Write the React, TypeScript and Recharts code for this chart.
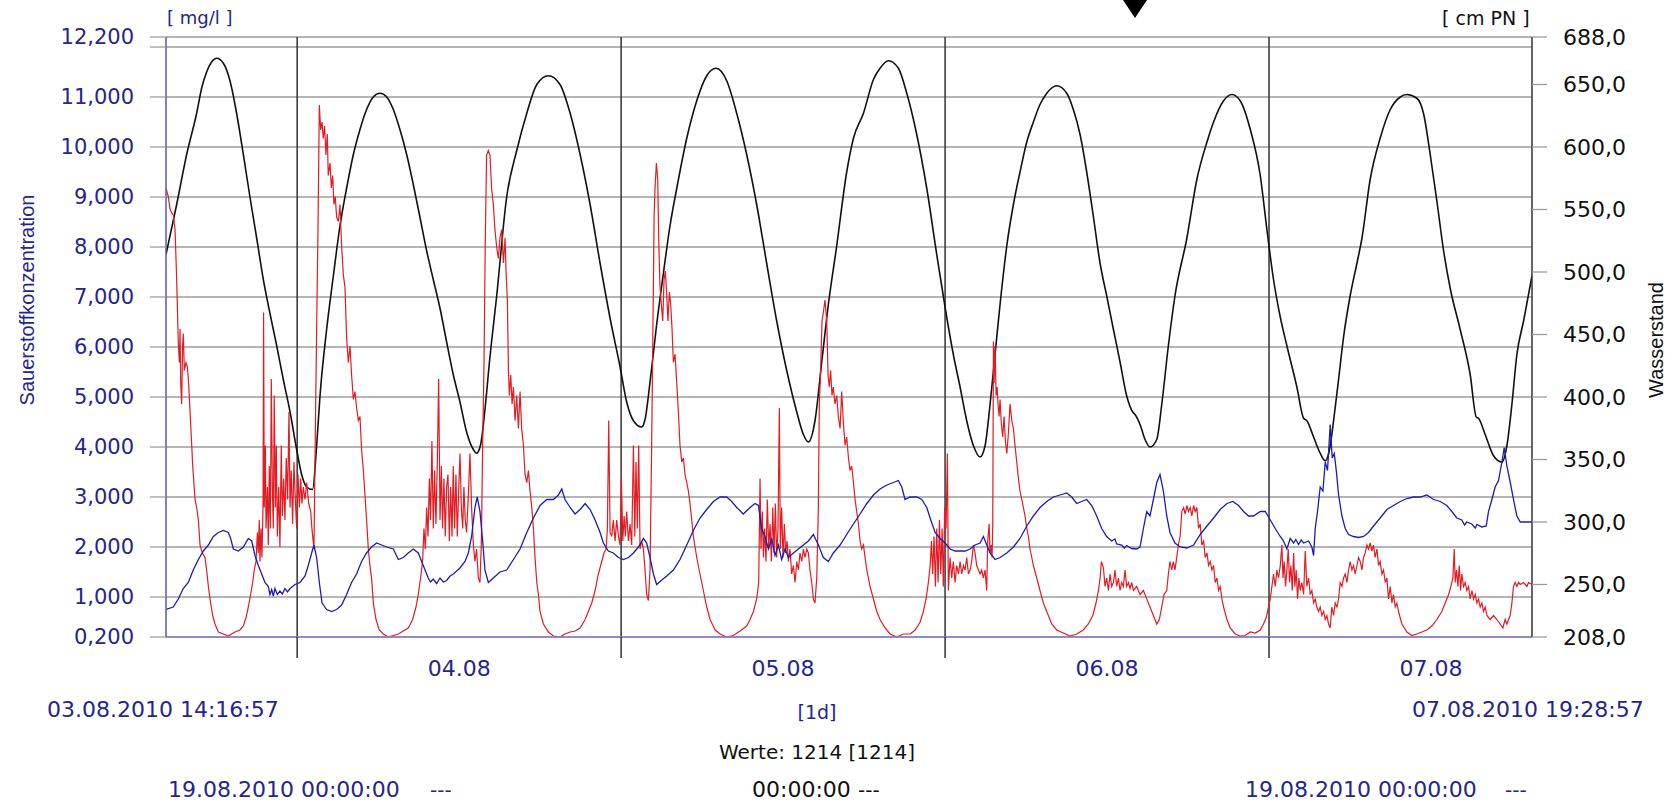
import { LineChart, Line, XAxis, YAxis, CartesianGrid, ReferenceLine } from 'recharts';

// time axis: hours after 03.08.2010 14:16:57 (end 07.08.2010 19:28:57)
const timeSpan = [0, 101.2];
const dayStarts = [9.7175, 33.7175, 57.7175, 81.7175];
const dayCenters = [21.7175, 45.7175, 69.7175, 93.7175];
const dayLabels = ['04.08', '05.08', '06.08', '07.08'];

const leftTicks = [0.2, 1, 2, 3, 4, 5, 6, 7, 8, 9, 10, 11, 12, 12.2];
const rightTicks = [208, 250, 300, 350, 400, 450, 500, 550, 600, 650, 688];

// Wasserstand [cm PN]
const waterLevel: [number, number][] = [
  [0, 514], [0.79, 554], [1.53, 594], [2.27, 627], [2.64, 647], [3.01, 660], [3.38, 668], [3.75, 671],
  [4.25, 667], [4.74, 653], [5.23, 627], [5.73, 594], [6.22, 560], [6.72, 527], [7.21, 494], [7.7, 467],
  [8.2, 441], [8.69, 414], [9.19, 388], [9.68, 358], [10.05, 338], [10.42, 328], [10.86, 326], [11.16, 361],
  [11.41, 401], [11.9, 454], [12.4, 497], [12.89, 537], [13.38, 567], [13.88, 594], [14.37, 614], [14.86, 630],
  [15.36, 640], [15.85, 643], [16.35, 640], [16.84, 630], [17.33, 614], [17.83, 594], [18.32, 570], [18.81, 544],
  [19.31, 517], [19.8, 494], [20.3, 471], [20.79, 444], [21.28, 418], [21.78, 396], [22.27, 372], [22.77, 358],
  [23.01, 355], [23.31, 362], [23.63, 390], [24.0, 432], [24.49, 480], [25.24, 560], [25.98, 597], [26.73, 627],
  [27.47, 650], [28.33, 657], [29.19, 650], [29.94, 627], [30.68, 594], [31.42, 554], [32.16, 507], [32.9, 463],
  [33.64, 424], [34.13, 396], [34.63, 381], [35.24, 376], [35.49, 382], [35.86, 412], [36.35, 458], [36.85, 499],
  [37.34, 537], [37.84, 567], [38.58, 607], [39.32, 637], [40.06, 657], [40.75, 663], [41.54, 653], [42.28, 627],
  [43.02, 594], [43.76, 554], [44.5, 507], [45.24, 461], [45.99, 421], [46.73, 388], [47.22, 370], [47.59, 364],
  [48.08, 381], [48.58, 428], [49.07, 474], [49.69, 521], [50.43, 580], [50.93, 607], [51.67, 627], [52.41, 654],
  [52.9, 663], [53.52, 669], [54.26, 663], [54.88, 643], [55.62, 610], [56.36, 567], [57.1, 514], [57.79, 467],
  [58.33, 434], [58.83, 408], [59.32, 381], [59.82, 361], [60.31, 352], [60.68, 361], [61.05, 394], [61.42, 434],
  [61.79, 474], [62.29, 521], [62.78, 554], [63.27, 580], [63.77, 604], [64.26, 620], [64.75, 634], [65.25, 643],
  [65.99, 649], [66.73, 643], [67.22, 630], [67.72, 610], [68.21, 580], [68.71, 544], [69.2, 507], [69.69, 481],
  [70.19, 454], [70.68, 428], [71.17, 401], [71.62, 388], [71.79, 386], [72.16, 378], [72.53, 366], [72.9, 360],
  [73.4, 366], [73.77, 394], [74.26, 441], [74.75, 481], [75.63, 527], [76.37, 574], [77.12, 604], [77.61, 620],
  [78.35, 637], [78.97, 642], [79.58, 637], [80.33, 614], [81.07, 577], [81.56, 534], [82.05, 494], [82.55, 464],
  [83.04, 441], [83.78, 408], [84.28, 383], [84.52, 381], [85.02, 368], [85.51, 355], [85.88, 349], [86.25, 361],
  [86.5, 381], [86.87, 414], [87.24, 448], [87.73, 481], [88.23, 507], [88.6, 527], [89.21, 574], [89.95, 607],
  [90.7, 630], [91.44, 640], [91.93, 642], [92.67, 639], [93.16, 627], [93.66, 594], [94.15, 557], [94.65, 517],
  [95.14, 487], [95.88, 454], [96.62, 418], [97.07, 384], [97.24, 383], [97.73, 370], [98.35, 353], [98.97, 348],
  [99.34, 361], [99.71, 394], [100.08, 434], [100.58, 461], [101.2, 497],
];

// Sauerstoffkonzentration [mg/l], blue trace
const oxygenBlue: [number, number][] = [
  [0, 0.75], [0.54, 0.8], [0.91, 0.96], [1.28, 1.17], [1.65, 1.29], [2.02, 1.54], [2.4, 1.75], [2.77, 1.92],
  [3.14, 2.04], [3.51, 2.21], [3.88, 2.29], [4.25, 2.33], [4.62, 2.29], [4.79, 2.17], [4.99, 1.96], [5.36, 1.92],
  [5.73, 2.0], [6.1, 2.17], [6.35, 2.12], [6.59, 1.83], [6.84, 1.63], [7.09, 1.46], [7.33, 1.29], [7.58, 1.21],
  [7.7, 1.05], [7.83, 1.15], [7.95, 1.02], [8.07, 1.17], [8.25, 1.05], [8.44, 1.12], [8.62, 1.06], [8.81, 1.17],
  [9.0, 1.1], [9.19, 1.17], [9.56, 1.25], [9.93, 1.29], [10.3, 1.42], [10.54, 1.63], [10.79, 1.88], [10.96, 2.04],
  [11.16, 1.79], [11.36, 1.29], [11.56, 0.88], [11.9, 0.75], [12.27, 0.71], [12.64, 0.75], [13.01, 0.84],
  [13.38, 1.05], [13.75, 1.29], [14.12, 1.46], [14.49, 1.71], [14.86, 1.88], [15.23, 2.0], [15.6, 2.08],
  [15.98, 2.04], [16.35, 2.0], [16.84, 1.96], [17.21, 1.75], [17.58, 1.79], [17.95, 1.88], [18.32, 1.96],
  [18.69, 1.88], [19.06, 1.63], [19.43, 1.38], [19.6, 1.3], [19.8, 1.36], [20.05, 1.27], [20.3, 1.38],
  [20.55, 1.3], [20.79, 1.33], [21.05, 1.42], [21.28, 1.46], [21.78, 1.58], [22.15, 1.71], [22.4, 1.88],
  [22.64, 2.21], [22.89, 2.79], [23.06, 3.0], [23.26, 2.71], [23.46, 2.12], [23.63, 1.54], [23.88, 1.29],
  [24.25, 1.38], [24.74, 1.5], [25.24, 1.54], [25.74, 1.75], [26.23, 1.96], [26.73, 2.29], [27.22, 2.58],
  [27.71, 2.83], [28.21, 2.95], [28.7, 2.95], [29.07, 3.04], [29.32, 3.16], [29.56, 2.95], [29.94, 2.79],
  [30.31, 2.66], [30.68, 2.75], [31.05, 2.87], [31.42, 2.75], [31.79, 2.54], [32.16, 2.29], [32.4, 2.08],
  [32.77, 1.92], [33.14, 1.88], [33.52, 1.79], [33.89, 1.75], [34.26, 1.79], [34.63, 1.88], [35.0, 2.0],
  [35.37, 2.17], [35.61, 2.08], [35.86, 1.79], [36.11, 1.46], [36.35, 1.25], [36.73, 1.34], [37.1, 1.42],
  [37.59, 1.54], [38.08, 1.75], [38.58, 2.04], [39.07, 2.33], [39.56, 2.58], [40.06, 2.75], [40.55, 2.91],
  [41.05, 3.0], [41.54, 3.0], [41.91, 2.91], [42.28, 2.79], [42.77, 2.66], [43.27, 2.79], [43.64, 2.87],
  [43.89, 2.83], [44.13, 2.37], [44.38, 2.21], [44.63, 1.96], [44.87, 2.17], [45.12, 1.83], [45.37, 2.04],
  [45.61, 1.75], [45.86, 1.96], [46.11, 1.79], [46.48, 1.88], [46.85, 1.96], [47.22, 2.04], [47.59, 2.12],
  [47.96, 2.25], [48.33, 2.04], [48.7, 1.79], [49.07, 1.71], [49.44, 1.88], [49.94, 2.04], [50.43, 2.25],
  [50.93, 2.46], [51.42, 2.66], [51.92, 2.87], [52.41, 3.04], [52.9, 3.16], [53.4, 3.24], [53.89, 3.29],
  [54.26, 3.33], [54.51, 3.2], [54.75, 2.95], [55.13, 3.0], [55.62, 3.0], [55.99, 2.95], [56.36, 2.79],
  [56.66, 2.54], [56.98, 2.29], [57.35, 2.17], [57.72, 2.08], [58.09, 1.96], [58.46, 1.92], [58.83, 1.92],
  [59.2, 1.92], [59.57, 1.96], [59.94, 2.04], [60.31, 2.08], [60.56, 2.21], [60.75, 2.08], [61.05, 1.88],
  [61.42, 1.75], [61.79, 1.79], [62.29, 1.88], [62.78, 2.0], [63.27, 2.17], [63.77, 2.42], [64.26, 2.62],
  [64.75, 2.79], [65.25, 2.91], [65.74, 3.0], [66.24, 3.04], [66.73, 3.08], [67.1, 3.0], [67.47, 2.87],
  [67.84, 2.91], [68.21, 2.95], [68.58, 2.83], [68.95, 2.62], [69.32, 2.37], [69.69, 2.21], [70.06, 2.12],
  [70.3, 2.16], [70.43, 2.06], [70.8, 2.04], [71.0, 1.98], [71.17, 2.03], [71.54, 1.97], [71.91, 1.96],
  [72.16, 2.0], [72.41, 2.37], [72.66, 2.71], [72.9, 2.62], [73.15, 2.95], [73.4, 3.29], [73.64, 3.45],
  [73.89, 3.12], [74.14, 2.62], [74.38, 2.29], [74.75, 2.08], [75.13, 2.0], [75.63, 1.98], [76.13, 2.04],
  [76.62, 2.25], [77.12, 2.42], [77.61, 2.58], [78.1, 2.75], [78.6, 2.87], [79.04, 2.91], [79.46, 2.83],
  [79.83, 2.71], [80.2, 2.62], [80.57, 2.62], [81.07, 2.71], [81.44, 2.71], [81.81, 2.54], [82.18, 2.37],
  [82.55, 2.21], [82.79, 2.12], [83.04, 1.96], [83.29, 2.17], [83.54, 2.08], [83.7, 2.15], [83.91, 2.05],
  [84.1, 2.14], [84.28, 2.08], [84.65, 2.12], [84.89, 2.0], [85.02, 1.83], [85.14, 2.37], [85.31, 2.71],
  [85.51, 3.2], [85.71, 3.12], [85.88, 3.7], [86.05, 3.53], [86.25, 4.45], [86.4, 3.78], [86.55, 3.87],
  [86.7, 3.53], [86.87, 3.04], [87.12, 2.62], [87.36, 2.37], [87.61, 2.25], [87.98, 2.21], [88.35, 2.19],
  [88.72, 2.21], [89.09, 2.29], [89.46, 2.42], [89.95, 2.58], [90.45, 2.75], [90.94, 2.83], [91.44, 2.91],
  [91.93, 2.97], [92.42, 3.0], [92.92, 3.0], [93.41, 3.04], [93.91, 2.95], [94.4, 2.91], [94.89, 2.83],
  [95.26, 2.71], [95.63, 2.58], [96.0, 2.54], [96.2, 2.44], [96.37, 2.5], [96.74, 2.46], [97.0, 2.38],
  [97.12, 2.45], [97.49, 2.4], [97.81, 2.42], [97.98, 2.71], [98.23, 2.95], [98.47, 3.2], [98.72, 3.33],
  [98.97, 3.7], [99.14, 3.99], [99.34, 3.62], [99.59, 3.29], [99.83, 2.95], [100.08, 2.62], [100.33, 2.5],
  [100.7, 2.5], [101.2, 2.5],
];

// second oxygen trace, red
const oxygenRed: [number, number][] = [
  [0, 9.18], [0.17, 9.01], [0.3, 8.76], [0.42, 8.68], [0.54, 8.64], [0.67, 8.35], [0.79, 7.35], [0.91, 6.1],
  [0.99, 5.69], [1.04, 6.36], [1.09, 5.27], [1.16, 4.86], [1.23, 6.02], [1.28, 6.27], [1.36, 5.53], [1.48, 5.69],
  [1.58, 5.61], [1.68, 5.27], [1.83, 4.45], [1.98, 3.62], [2.15, 2.95], [2.27, 2.79], [2.4, 2.54], [2.52, 2.04],
  [2.69, 1.88], [2.89, 1.79], [3.01, 1.54], [3.14, 1.21], [3.26, 0.96], [3.46, 0.63], [3.63, 0.46], [3.88, 0.3],
  [4.25, 0.26], [4.62, 0.22], [4.86, 0.26], [5.11, 0.3], [5.48, 0.34], [5.73, 0.42], [5.93, 0.59], [6.1, 0.8],
  [6.27, 1.05], [6.42, 1.29], [6.54, 1.54], [6.67, 1.71], [6.77, 2.29], [6.84, 1.88], [6.91, 2.54], [6.96, 1.71],
  [7.04, 2.37], [7.11, 1.79], [7.19, 2.87], [7.23, 6.69], [7.28, 2.79], [7.36, 4.03], [7.41, 2.37], [7.51, 3.2],
  [7.58, 2.04], [7.65, 3.62], [7.73, 2.37], [7.8, 5.36], [7.88, 3.2], [7.95, 2.37], [8.02, 5.03], [8.1, 2.79],
  [8.17, 4.03], [8.25, 2.21], [8.35, 3.2], [8.44, 2.0], [8.54, 4.03], [8.62, 2.62], [8.72, 3.37], [8.81, 2.54],
  [8.91, 3.78], [9.01, 2.95], [9.11, 4.7], [9.19, 2.79], [9.28, 3.53], [9.38, 2.46], [9.48, 3.7], [9.58, 2.95],
  [9.68, 2.37], [9.78, 3.45], [9.88, 2.79], [9.98, 3.37], [10.07, 2.87], [10.17, 3.2], [10.3, 2.95], [10.42, 3.29],
  [10.57, 2.87], [10.72, 2.71], [10.81, 2.37], [10.96, 1.96], [11.09, 4.86], [11.16, 6.36], [11.26, 8.35],
  [11.36, 10.84], [11.46, 10.34], [11.56, 10.5], [11.65, 10.17], [11.75, 10.42], [11.85, 9.84], [11.95, 10.26],
  [12.02, 9.43], [12.15, 9.68], [12.25, 9.18], [12.35, 9.43], [12.44, 8.85], [12.54, 9.01], [12.64, 8.6],
  [12.77, 8.51], [12.89, 8.85], [13.01, 8.02], [13.14, 7.44], [13.26, 7.19], [13.38, 6.19], [13.51, 5.69],
  [13.63, 6.02], [13.75, 5.44], [13.88, 4.95], [14.0, 5.11], [14.12, 4.78], [14.25, 4.53], [14.37, 4.61],
  [14.49, 3.95], [14.62, 3.53], [14.74, 3.04], [14.86, 2.54], [14.99, 1.96], [15.11, 1.63], [15.23, 1.38],
  [15.36, 0.88], [15.56, 0.55], [15.8, 0.34], [16.1, 0.26], [16.47, 0.2], [16.84, 0.23], [17.21, 0.26],
  [17.58, 0.32], [17.95, 0.38], [18.27, 0.55], [18.52, 0.8], [18.69, 1.05], [18.86, 1.38], [19.01, 1.71],
  [19.11, 2.37], [19.21, 1.96], [19.31, 2.79], [19.41, 2.21], [19.51, 3.37], [19.6, 2.54], [19.7, 4.12],
  [19.8, 2.37], [19.9, 3.53], [20.0, 2.46], [20.1, 3.7], [20.2, 5.36], [20.3, 2.54], [20.4, 3.62], [20.49, 2.37],
  [20.59, 3.37], [20.69, 2.21], [20.79, 3.2], [20.89, 3.45], [20.99, 2.12], [21.09, 3.2], [21.19, 2.21],
  [21.28, 3.62], [21.38, 2.37], [21.48, 3.45], [21.58, 2.21], [21.68, 3.12], [21.78, 3.87], [21.88, 2.79],
  [21.98, 2.37], [22.07, 3.2], [22.17, 2.54], [22.27, 2.29], [22.4, 3.04], [22.52, 3.87], [22.64, 2.79],
  [22.77, 2.04], [22.89, 1.71], [23.01, 1.96], [23.14, 1.38], [23.26, 1.29], [23.36, 2.04], [23.46, 4.03],
  [23.56, 5.69], [23.65, 8.02], [23.75, 9.84], [23.88, 9.93], [24.0, 9.84], [24.12, 9.18], [24.25, 8.85],
  [24.37, 8.35], [24.49, 8.02], [24.62, 7.77], [24.74, 8.18], [24.87, 8.35], [25.0, 7.68], [25.12, 8.18],
  [25.19, 7.52], [25.29, 6.94], [25.37, 5.53], [25.44, 5.03], [25.54, 5.44], [25.64, 4.86], [25.74, 5.2],
  [25.86, 4.53], [25.98, 5.03], [26.11, 4.37], [26.23, 5.11], [26.35, 4.37], [26.48, 4.03], [26.6, 3.45],
  [26.73, 3.29], [26.85, 3.53], [26.97, 3.12], [27.1, 2.79], [27.22, 2.37], [27.34, 1.79], [27.47, 1.29],
  [27.59, 1.05], [27.71, 0.71], [27.96, 0.46], [28.33, 0.3], [28.7, 0.22], [29.19, 0.2], [29.56, 0.26],
  [29.94, 0.3], [30.31, 0.32], [30.68, 0.38], [31.05, 0.55], [31.29, 0.71], [31.54, 0.88], [31.79, 1.13],
  [32.03, 1.46], [32.28, 1.71], [32.45, 1.88], [32.6, 1.96], [32.7, 2.37], [32.8, 4.53], [32.9, 2.29],
  [33.02, 2.21], [33.14, 2.54], [33.27, 2.12], [33.39, 2.54], [33.52, 2.21], [33.64, 2.04], [33.74, 3.37],
  [33.84, 2.12], [33.94, 2.62], [34.03, 2.21], [34.13, 2.71], [34.26, 2.12], [34.38, 2.46], [34.5, 2.04],
  [34.63, 4.03], [34.73, 2.21], [34.82, 3.7], [34.92, 2.37], [35.02, 4.03], [35.12, 1.96], [35.24, 2.12],
  [35.37, 1.96], [35.49, 1.54], [35.61, 1.05], [35.74, 0.93], [35.86, 1.54], [35.98, 4.03], [36.08, 6.52],
  [36.16, 8.6], [36.23, 9.18], [36.33, 9.68], [36.43, 9.34], [36.5, 8.18], [36.6, 7.19], [36.7, 6.85],
  [36.8, 6.52], [36.9, 7.35], [37.0, 7.52], [37.1, 7.02], [37.19, 6.52], [37.29, 7.1], [37.39, 6.85],
  [37.49, 6.36], [37.59, 5.69], [37.71, 5.86], [37.84, 5.27], [37.96, 4.7], [38.08, 4.03], [38.21, 3.7],
  [38.33, 3.78], [38.45, 3.45], [38.58, 3.29], [38.7, 3.12], [38.82, 2.87], [38.95, 2.54], [39.07, 2.21],
  [39.32, 1.79], [39.56, 1.46], [39.81, 1.13], [40.06, 0.8], [40.31, 0.55], [40.68, 0.34], [41.05, 0.26],
  [41.54, 0.2], [42.03, 0.23], [42.53, 0.32], [43.02, 0.42], [43.27, 0.55], [43.52, 0.71], [43.76, 0.96],
  [43.91, 1.29], [44.01, 3.37], [44.08, 1.96], [44.18, 2.71], [44.26, 1.79], [44.35, 2.37], [44.45, 1.71],
  [44.55, 2.95], [44.65, 1.96], [44.75, 2.46], [44.85, 1.71], [44.95, 2.79], [45.05, 1.88], [45.14, 2.87],
  [45.24, 1.79], [45.34, 2.37], [45.44, 4.78], [45.51, 1.96], [45.61, 2.79], [45.71, 1.79], [45.81, 2.46],
  [45.91, 1.88], [46.01, 2.12], [46.11, 1.71], [46.23, 1.96], [46.35, 1.46], [46.48, 1.63], [46.6, 1.29],
  [46.73, 1.71], [46.85, 1.54], [46.97, 1.88], [47.1, 1.71], [47.22, 1.96], [47.34, 1.79], [47.47, 1.96],
  [47.59, 1.88], [47.71, 1.54], [47.84, 1.29], [47.96, 0.96], [48.08, 0.88], [48.21, 1.38], [48.33, 2.79],
  [48.4, 4.86], [48.5, 5.53], [48.6, 6.52], [48.7, 6.69], [48.82, 6.94], [48.95, 6.52], [49.05, 5.44],
  [49.14, 5.2], [49.24, 5.53], [49.34, 5.03], [49.44, 5.2], [49.56, 4.86], [49.69, 5.03], [49.81, 4.61],
  [49.94, 4.37], [50.06, 5.11], [50.19, 4.45], [50.31, 4.03], [50.43, 4.2], [50.56, 3.78], [50.68, 3.53],
  [50.8, 3.62], [50.93, 3.29], [51.05, 2.95], [51.17, 2.71], [51.3, 2.46], [51.42, 2.12], [51.54, 1.96],
  [51.67, 2.04], [51.79, 1.79], [51.92, 1.54], [52.16, 1.21], [52.41, 0.96], [52.66, 0.71], [52.9, 0.55],
  [53.27, 0.38], [53.64, 0.26], [54.14, 0.2], [54.63, 0.26], [55.13, 0.26], [55.5, 0.34], [55.87, 0.5],
  [56.11, 0.71], [56.31, 0.96], [56.48, 1.29], [56.61, 1.63], [56.71, 2.12], [56.8, 1.46], [56.9, 2.21],
  [57.0, 1.21], [57.1, 2.37], [57.2, 1.29], [57.3, 2.54], [57.4, 1.46], [57.5, 2.37], [57.59, 1.21],
  [57.69, 2.79], [57.79, 2.37], [57.89, 3.87], [57.96, 1.13], [58.09, 1.79], [58.21, 1.38], [58.33, 1.71],
  [58.46, 1.29], [58.58, 1.63], [58.71, 1.46], [58.83, 1.71], [58.95, 1.46], [59.08, 1.63], [59.2, 1.54],
  [59.32, 1.79], [59.45, 1.46], [59.57, 1.54], [59.69, 1.71], [59.82, 2.04], [59.94, 1.88], [60.06, 1.63],
  [60.19, 1.54], [60.31, 1.46], [60.43, 1.54], [60.56, 1.38], [60.68, 1.54], [60.8, 1.13], [60.88, 2.12],
  [60.98, 2.46], [61.05, 1.88], [61.13, 2.04], [61.2, 1.79], [61.25, 2.46], [61.3, 6.11], [61.35, 5.28],
  [61.42, 6.02], [61.5, 5.03], [61.57, 5.2], [61.64, 4.86], [61.72, 4.61], [61.79, 4.95], [61.89, 4.45],
  [61.99, 4.2], [62.09, 4.61], [62.19, 4.12], [62.29, 3.87], [62.41, 4.28], [62.53, 4.86], [62.66, 4.53],
  [62.78, 4.37], [62.9, 4.03], [63.03, 3.7], [63.15, 3.37], [63.27, 3.12], [63.4, 2.95], [63.52, 2.79],
  [63.64, 2.62], [63.77, 2.37], [63.89, 2.21], [64.01, 1.96], [64.14, 1.79], [64.26, 1.63], [64.51, 1.38],
  [64.75, 1.13], [65.0, 0.88], [65.25, 0.71], [65.62, 0.46], [65.99, 0.34], [66.48, 0.28], [66.98, 0.22],
  [67.47, 0.26], [67.96, 0.34], [68.33, 0.46], [68.66, 0.63], [68.9, 0.88], [69.08, 1.13], [69.2, 1.38],
  [69.3, 1.71], [69.45, 1.58], [69.57, 1.21], [69.69, 1.38], [69.82, 1.13], [69.94, 1.46], [70.06, 1.21],
  [70.19, 1.29], [70.31, 1.54], [70.43, 1.21], [70.56, 1.38], [70.68, 1.13], [70.8, 1.29], [70.93, 1.21],
  [71.05, 1.54], [71.17, 1.21], [71.3, 1.29], [71.42, 1.17], [71.54, 1.29], [71.67, 1.13], [71.91, 1.21],
  [72.16, 1.05], [72.41, 1.13], [72.66, 0.96], [72.9, 0.8], [73.15, 0.63], [73.4, 0.46], [73.59, 0.55],
  [73.77, 0.8], [73.94, 1.05], [74.14, 1.13], [74.26, 1.46], [74.38, 1.71], [74.51, 1.54], [74.63, 1.71],
  [74.75, 1.54], [74.88, 1.79], [75.0, 2.04], [75.13, 2.21], [75.26, 2.71], [75.39, 2.79], [75.51, 2.66],
  [75.63, 2.83], [75.76, 2.71], [75.88, 2.79], [76.0, 2.62], [76.13, 2.83], [76.25, 2.71], [76.37, 2.79],
  [76.5, 2.37], [76.62, 2.46], [76.74, 2.04], [76.87, 2.12], [76.99, 1.79], [77.12, 1.88], [77.24, 1.63],
  [77.36, 1.71], [77.49, 1.54], [77.61, 1.63], [77.73, 1.29], [77.86, 1.38], [77.98, 1.13], [78.1, 1.21],
  [78.23, 0.96], [78.35, 0.8], [78.6, 0.55], [78.84, 0.38], [79.21, 0.26], [79.58, 0.22], [79.95, 0.23],
  [80.33, 0.3], [80.7, 0.28], [81.07, 0.34], [81.31, 0.46], [81.51, 0.59], [81.68, 0.8], [81.81, 0.96],
  [81.93, 1.21], [82.05, 1.46], [82.18, 1.21], [82.3, 1.54], [82.42, 1.38], [82.55, 1.63], [82.67, 2.04],
  [82.75, 1.38], [82.84, 1.71], [82.94, 1.21], [83.04, 1.54], [83.14, 1.96], [83.24, 1.29], [83.34, 1.63],
  [83.44, 1.13], [83.54, 1.88], [83.63, 1.21], [83.73, 1.54], [83.83, 0.96], [83.93, 1.38], [84.03, 1.13],
  [84.15, 1.29], [84.28, 1.05], [84.4, 1.92], [84.52, 1.21], [84.65, 1.38], [84.77, 1.05], [84.89, 1.13],
  [85.02, 0.88], [85.14, 0.96], [85.26, 0.8], [85.39, 0.71], [85.51, 0.8], [85.63, 0.63], [85.76, 0.71],
  [85.88, 0.55], [86.0, 0.63], [86.13, 0.46], [86.25, 0.38], [86.37, 0.8], [86.5, 0.63], [86.62, 0.88],
  [86.75, 0.8], [86.87, 0.96], [86.99, 1.29], [87.12, 1.21], [87.24, 1.38], [87.36, 1.46], [87.49, 1.29],
  [87.61, 1.54], [87.73, 1.71], [87.86, 1.54], [87.98, 1.63], [88.1, 1.46], [88.23, 1.63], [88.35, 1.79],
  [88.47, 1.71], [88.6, 1.54], [88.72, 1.79], [88.84, 1.88], [88.97, 2.04], [89.09, 1.96], [89.21, 2.08],
  [89.34, 1.92], [89.46, 2.04], [89.58, 1.79], [89.71, 1.96], [89.83, 1.63], [89.95, 1.71], [90.08, 1.46],
  [90.2, 1.54], [90.33, 1.29], [90.45, 1.38], [90.57, 0.96], [90.7, 1.21], [90.82, 0.88], [90.94, 1.05],
  [91.07, 0.8], [91.19, 0.88], [91.31, 0.71], [91.56, 0.46], [91.93, 0.3], [92.3, 0.23], [92.67, 0.26],
  [93.04, 0.3], [93.41, 0.34], [93.78, 0.42], [94.15, 0.55], [94.52, 0.71], [94.77, 0.88], [95.02, 1.05],
  [95.19, 1.21], [95.34, 1.38], [95.44, 1.96], [95.51, 1.29], [95.61, 1.54], [95.71, 1.21], [95.81, 1.63],
  [95.91, 1.13], [96.0, 1.46], [96.13, 1.21], [96.25, 1.29], [96.37, 1.13], [96.5, 1.21], [96.62, 0.96],
  [96.75, 1.13], [96.87, 0.96], [96.99, 1.05], [97.12, 0.88], [97.24, 0.96], [97.36, 0.8], [97.49, 0.88],
  [97.61, 0.71], [97.73, 0.8], [97.86, 0.63], [98.1, 0.55], [98.35, 0.63], [98.6, 0.55], [98.84, 0.46],
  [99.04, 0.38], [99.21, 0.55], [99.34, 0.46], [99.58, 0.63], [99.71, 0.88], [99.83, 1.21], [99.95, 1.29],
  [100.08, 1.21], [100.2, 1.29], [100.33, 1.25], [100.58, 1.29], [100.82, 1.21], [100.94, 1.29], [101.2, 1.25],
];

const BLUE_TEXT = '#25258f';
const GRID = '#9c9c9c';

const toRows = (pairs: [number, number][]) => pairs.map(([t, v]) => ({ t, v }));
const fmtLeft = (v: number) => (v === 12 ? '' : v.toFixed(3).replace('.', ','));
const fmtRight = (v: number) => v.toFixed(1).replace('.', ',');

function DayTick(props: any) {
  const { x, y, payload } = props;
  if (dayStarts.includes(payload.value)) {
    return <line x1={x} x2={x} y1={y} y2={y + 21} stroke="#333" strokeWidth={1.5} />;
  }
  const i = dayCenters.indexOf(payload.value);
  return (
    <text x={x} y={y + 31} textAnchor="middle" dominantBaseline="central" fill={BLUE_TEXT} fontSize={22} fontFamily="DejaVu Sans">
      {dayLabels[i]}
    </text>
  );
}

const label = (left: number, top: number, text: string, color: string, size: number, extra: any = {}) => (
  <div
    style={{
      position: 'absolute',
      left,
      top,
      transform: 'translateY(-50%)',
      color,
      fontSize: size,
      fontFamily: 'DejaVu Sans',
      lineHeight: 1,
      whiteSpace: 'nowrap',
      ...extra,
    }}
  >
    {text}
  </div>
);

export default function App() {
  const xTicks = [...dayStarts, ...dayCenters].sort((a, b) => a - b);
  return (
    <div style={{ position: 'absolute', left: 0, top: 0, width: 1679, height: 801, background: '#fff', overflow: 'hidden' }}>
      <LineChart width={1679} height={801} margin={{ top: 37, right: 0, bottom: 0, left: 0 }}>
        <CartesianGrid yAxisId="left" vertical={false} stroke={GRID} strokeWidth={1.3} />
        <XAxis
          type="number"
          dataKey="t"
          domain={timeSpan}
          ticks={xTicks}
          interval={0}
          tick={<DayTick />}
          tickLine={false}
          tickSize={0}
          tickMargin={0}
          height={164}
          axisLine={{ stroke: '#8080d4', strokeWidth: 1.5 }}
          allowDataOverflow
        />
        <YAxis
          yAxisId="left"
          orientation="left"
          domain={[0.2, 12.2]}
          ticks={leftTicks}
          interval={0}
          width={166}
          tickSize={16}
          tickMargin={16}
          tickLine={{ stroke: GRID, strokeWidth: 1.3 }}
          axisLine={{ stroke: '#5858a6', strokeWidth: 1.5 }}
          tick={{ fill: BLUE_TEXT, fontSize: 21, fontFamily: 'DejaVu Sans' }}
          tickFormatter={fmtLeft}
          allowDataOverflow
        />
        <YAxis
          yAxisId="right"
          orientation="right"
          domain={[208, 688]}
          ticks={rightTicks}
          interval={0}
          width={147}
          tickSize={15}
          tickMargin={16}
          tickLine={{ stroke: GRID, strokeWidth: 1.3 }}
          axisLine={{ stroke: '#333', strokeWidth: 1.5 }}
          tick={{ fill: '#111', fontSize: 22, fontFamily: 'DejaVu Sans' }}
          tickFormatter={fmtRight}
          allowDataOverflow
        />
        {dayStarts.map((d) => (
          <ReferenceLine key={d} x={d} yAxisId="left" stroke="#333" strokeWidth={1.5} />
        ))}
        <Line data={toRows(waterLevel)} dataKey="v" yAxisId="right" type="monotone" stroke="#111" strokeWidth={1.6} dot={false} isAnimationActive={false} />
        <Line data={toRows(oxygenRed)} dataKey="v" yAxisId="left" type="linear" stroke="#e31b23" strokeWidth={1.2} dot={false} isAnimationActive={false} />
        <Line data={toRows(oxygenBlue)} dataKey="v" yAxisId="left" type="linear" stroke="#1c1cb0" strokeWidth={1.3} dot={false} isAnimationActive={false} />
      </LineChart>

      <svg style={{ position: 'absolute', left: 1123, top: 0 }} width={24} height={19}>
        <polygon points="0,0 24,0 12,18" fill="#000" />
      </svg>

      {label(167, 18, '[ mg/l ]', BLUE_TEXT, 18)}
      {label(1442, 18, '[ cm PN ]', '#111', 19)}

      <div style={{ position: 'absolute', left: 27, top: 300, transform: 'translate(-50%, -50%) rotate(-90deg)', color: BLUE_TEXT, fontSize: 20, fontFamily: 'Liberation Sans', whiteSpace: 'nowrap', lineHeight: 1 }}>
        Sauerstoffkonzentration
      </div>
      <div style={{ position: 'absolute', left: 1656, top: 340, transform: 'translate(-50%, -50%) rotate(-90deg)', color: '#111', fontSize: 20, fontFamily: 'Liberation Sans', whiteSpace: 'nowrap', lineHeight: 1 }}>
        Wasserstand
      </div>

      {label(47, 710, '03.08.2010 14:16:57', BLUE_TEXT, 22)}
      {label(1412, 710, '07.08.2010 19:28:57', BLUE_TEXT, 22)}
      {label(817, 712, '[1d]', BLUE_TEXT, 19, { transform: 'translate(-50%, -50%)' })}
      {label(817, 752, 'Werte: 1214 [1214]', '#111', 20, { transform: 'translate(-50%, -50%)' })}

      {label(168, 790, '19.08.2010 00:00:00', BLUE_TEXT, 22)}
      {label(430, 790, '---', BLUE_TEXT, 20)}
      {label(752, 790, '00:00:00', '#111', 22)}
      {label(858, 790, '---', '#111', 20)}
      {label(1245, 790, '19.08.2010 00:00:00', BLUE_TEXT, 22)}
      {label(1505, 790, '---', BLUE_TEXT, 20)}
    </div>
  );
}
